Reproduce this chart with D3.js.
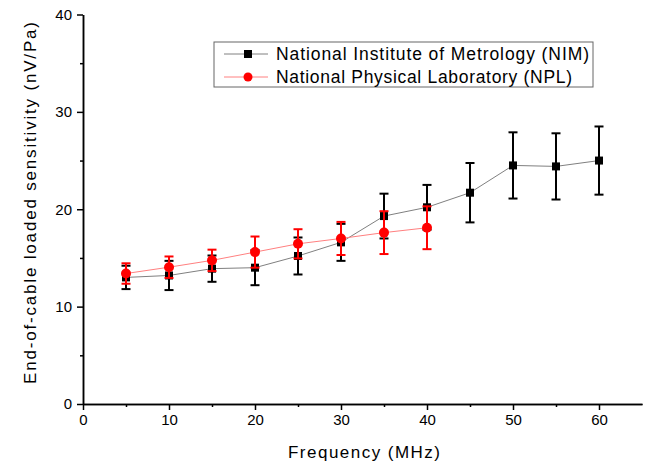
<!DOCTYPE html>
<html><head><meta charset="utf-8">
<script src="https://cdn.jsdelivr.net/npm/d3@7"></script>
<style>body{margin:0;background:#fff}svg{display:block}text{font-family:"Liberation Sans",Arial,sans-serif}</style>
</head><body>
<svg id="c" width="651" height="464"></svg>
<script>
const freqNIM = [5,10,15,20,25,30,35,40,45,50,55,60];
const nimValues = [13.0,13.2,13.9,14.0,15.2,16.6,19.3,20.2,21.7,24.5,24.4,25.0];
const nimErrors = [1.2,1.5,1.35,1.8,1.9,1.9,2.3,2.3,3.05,3.4,3.4,3.5];
const freqNPL = [5,10,15,20,25,30,35,40];
const nplValues = [13.4,14.05,14.75,15.6,16.45,17.0,17.6,18.1];
const nplErrors = [1.05,1.1,1.1,1.6,1.5,1.7,2.2,2.2];
const xTicks = [0,10,20,30,40,50,60];
const yTicks = [0,10,20,30,40];
const seriesNames = ["National Institute of Metrology (NIM)","National Physical Laboratory (NPL)"];

const svg = d3.select("#c");
const L=83, R=642, T=14.5, B=404;
const x = d3.scaleLinear().domain([0,65]).range([L,R]);
const y = d3.scaleLinear().domain([0,40]).range([B,T]);

// axes
const xAxis = d3.axisBottom(x).tickValues(xTicks).tickSize(6).tickSizeOuter(0).tickPadding(4);
const xMinor = d3.axisBottom(x).tickValues(d3.range(5,65,10)).tickSize(3).tickFormat("").tickSizeOuter(0);
const yAxis = d3.axisLeft(y).tickValues(yTicks).tickSize(6).tickSizeOuter(0).tickPadding(5);
const yMinor = d3.axisLeft(y).tickValues(d3.range(5,40,10)).tickSize(3).tickFormat("").tickSizeOuter(0);
function style(g){g.selectAll("path,line").attr("stroke","#000").attr("stroke-width",1.5);g.selectAll("text").attr("font-size",15).attr("fill","#000").style("font-family","Liberation Sans, Arial, sans-serif");}
svg.append("g").attr("transform",`translate(0,${B})`).call(xMinor).call(style);
svg.append("g").attr("transform",`translate(0,${B})`).call(xAxis).call(style);
svg.append("g").attr("transform",`translate(${L},0)`).call(yMinor).call(style);
svg.append("g").attr("transform",`translate(${L},0)`).call(yAxis).call(style);

svg.append("text").attr("x",364).attr("y",458).attr("text-anchor","middle").attr("font-size",17)
  .attr("textLength",152).attr("lengthAdjust","spacing").text("Frequency (MHz)");
svg.append("text").attr("transform",`translate(36,203) rotate(-90)`).attr("text-anchor","middle").attr("font-size",17)
  .attr("textLength",362).attr("lengthAdjust","spacing").text("End-of-cable loaded sensitivity (nV/Pa)");

function drawSeries(fx, vals, errs, lineColor, color, shape){
  const pts = fx.map((f,i)=>({f, v:vals[i], e:errs[i]}));
  svg.append("path").datum(pts).attr("fill","none").attr("stroke",lineColor).attr("stroke-width",1)
    .attr("d", d3.line().x(d=>x(d.f)).y(d=>y(d.v)));
  const g = svg.append("g");
  const eb = g.selectAll("g.eb").data(pts).enter().append("g").attr("stroke",color).attr("stroke-width",2);
  eb.append("line").attr("x1",d=>x(d.f)).attr("x2",d=>x(d.f)).attr("y1",d=>y(d.v-d.e)).attr("y2",d=>y(d.v+d.e));
  eb.append("line").attr("x1",d=>x(d.f)-4.5).attr("x2",d=>x(d.f)+4.5).attr("y1",d=>y(d.v+d.e)).attr("y2",d=>y(d.v+d.e));
  eb.append("line").attr("x1",d=>x(d.f)-4.5).attr("x2",d=>x(d.f)+4.5).attr("y1",d=>y(d.v-d.e)).attr("y2",d=>y(d.v-d.e));
  if(shape==="square"){
    g.selectAll("rect").data(pts).enter().append("rect").attr("x",d=>x(d.f)-4).attr("y",d=>y(d.v)-4).attr("width",8).attr("height",8).attr("fill",color);
  } else {
    g.selectAll("circle").data(pts).enter().append("circle").attr("cx",d=>x(d.f)).attr("cy",d=>y(d.v)).attr("r",5).attr("fill",color);
  }
}
drawSeries(freqNIM,nimValues,nimErrors,"#808080","#000","square");
drawSeries(freqNPL,nplValues,nplErrors,"#ff8080","#ff0000","circle");

// legend
const lg = svg.append("g");
lg.append("rect").attr("x",214).attr("y",42).attr("width",379).attr("height",45).attr("fill","#fff").attr("stroke","#666").attr("stroke-width",1);
const rows=[{n:seriesNames[0],lc:"#808080",c:"#000",s:"square",y:54,w:313},{n:seriesNames[1],lc:"#ff8080",c:"#ff0000",s:"circle",y:77,w:296}];
rows.forEach(r=>{
  lg.append("line").attr("x1",224).attr("x2",268).attr("y1",r.y).attr("y2",r.y).attr("stroke",r.lc).attr("stroke-width",1);
  if(r.s==="square") lg.append("rect").attr("x",244).attr("y",r.y-4).attr("width",8).attr("height",8).attr("fill",r.c);
  else lg.append("circle").attr("cx",248).attr("cy",r.y).attr("r",4.5).attr("fill",r.c);
  lg.append("text").attr("x",276).attr("y",r.y+6).attr("font-size",17.5).attr("textLength",r.w).attr("lengthAdjust","spacing").text(r.n);
});
</script>
</body></html>
